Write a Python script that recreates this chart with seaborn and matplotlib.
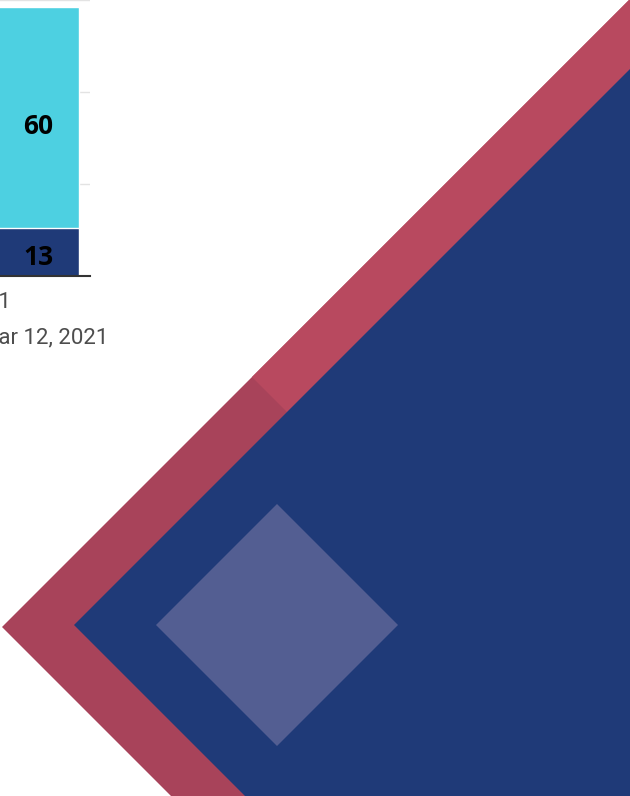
import numpy as np
import pandas as pd
import matplotlib
matplotlib.use("Agg")
import matplotlib.pyplot as plt
import seaborn as sns
from matplotlib.transforms import ScaledTranslation

# chart data: only the last bar is in view, the one before it lies off the left edge
# (its values cannot be read, only the end of its label shows)
week_ending = ["Mar 5, 2021", "Mar 12, 2021"]
bottom_values = [np.nan, 13]
top_values = [np.nan, 60]
y_ticks = [0, 25, 50, 75]

df = pd.DataFrame({
    "week": week_ending,
    "bottom": bottom_values,
    "top": top_values,
})
df["total"] = df["bottom"] + df["top"]

sns.set_theme(style="white")
plt.rcParams["font.family"] = ["Roboto", "DejaVu Sans"]

W, H = 630, 796
fig = plt.figure(figsize=(W / 100, H / 100), dpi=100)

# decorative background shapes, in pixel coordinates
bg = fig.add_axes([0, 0, 1, 1], zorder=0)
bg.set_xlim(0, W)
bg.set_ylim(H, 0)
bg.axis("off")


def diamond(cx, cy, r):
    return [cx - r, cx, cx + r, cx], [cy, cy - r, cy, cy + r]


big = 2000
bg.fill(*diamond(2 + big, 627, big), color="#a8435a", lw=0)
# lighter part of the red band towards the top-right corner
bg.fill([252, 1052, 1852, 1052], [377, -423, 377, 1177], color="#b8495f", lw=0)
bg.fill(*diamond(74 + big, 625, big), color="#1f3a78", lw=0)
bg.fill(*diamond(277, 625, 121), color="#535e92", lw=0)

# stacked bar chart, mostly cut off at the left edge
unit = 92.0      # px between category centres
bar_w = 82 / unit
centre_px = 38   # px position of the last bar's centre
n = len(df)
left_px = centre_px - (n - 1 + 0.5) * unit
right_px = 90
ax = fig.add_axes([left_px / W, 1 - 276 / H, (right_px - left_px) / W, 276 / H], zorder=1)
ax.set_facecolor("none")

sns.barplot(data=df, x="week", y="total", color="#4dd0e1", saturation=1,
            width=bar_w, edgecolor="white", linewidth=1, ax=ax)
sns.barplot(data=df, x="week", y="bottom", color="#1f3a78", saturation=1,
            width=bar_w, edgecolor="white", linewidth=1, ax=ax)

label_font = dict(fontsize=19, fontweight="bold", color="black",
                  family=["Open Sans", "DejaVu Sans"], ha="center", va="center")
for i, row in df.iterrows():
    if np.isnan(row["total"]):
        continue
    ax.text(i, row["bottom"] + row["top"] / 2 - 2.5, f"{row['top']:.0f}", **label_font)
    ax.text(i, row["bottom"] / 2 - 1.5, f"{row['bottom']:.0f}", **label_font)

ax.set_ylim(0, 75)
ax.set_xlim(-0.5, n - 1 + (right_px - centre_px) / unit)
ax.set_yticks(y_ticks)
ax.yaxis.grid(True, color="#e3e3e3", lw=1)
ax.set_axisbelow(True)
ax.tick_params(axis="y", length=0, labelleft=False)
ax.set_xlabel("")
ax.set_ylabel("")
for side in ["left", "right", "top"]:
    ax.spines[side].set_visible(False)
ax.spines["bottom"].set_color("#333333")
ax.spines["bottom"].set_linewidth(1.5)

# long date labels are staggered over two rows
ax.set_xticks(range(n))
ax.set_xticklabels(week_ending)
ax.tick_params(axis="x", length=0, pad=11, labelsize=16, labelcolor="#4d4d4d")
for i, lab in enumerate(ax.get_xticklabels()):
    drop = 36 if i % 2 else 0
    shift = ScaledTranslation(6 / 100, -drop / 100, fig.dpi_scale_trans)
    lab.set_transform(lab.get_transform() + shift)

fig.savefig("out.png", dpi=100)
